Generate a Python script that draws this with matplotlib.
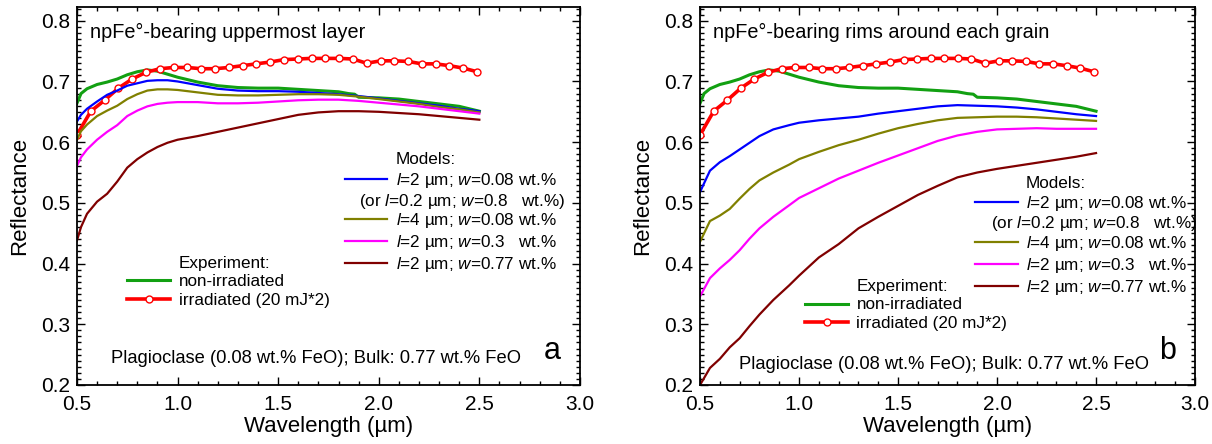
import numpy as np
import matplotlib
matplotlib.use('Agg')
import matplotlib.pyplot as plt
from matplotlib.lines import Line2D
from matplotlib.ticker import MultipleLocator

plt.rcParams['font.family'] = ['Liberation Sans', 'DejaVu Sans']
plt.rcParams['mathtext.fontset'] = 'custom'
plt.rcParams['mathtext.it'] = 'Liberation Sans:italic'
plt.rcParams['mathtext.rm'] = 'Liberation Sans'

# --- experiment (same in both panels) ---
wl_green = [0.5, 0.52, 0.55, 0.6, 0.65, 0.7, 0.75, 0.8, 0.85, 0.9, 0.95, 1.0, 1.05, 1.1, 1.2, 1.3,
            1.4, 1.5, 1.6, 1.7, 1.8, 1.85, 1.88, 1.9, 2.0, 2.1, 2.2, 2.3, 2.4, 2.5]
r_nonirr = [0.664, 0.680, 0.688, 0.695, 0.699, 0.704, 0.711, 0.716, 0.719, 0.717, 0.712, 0.707, 0.703,
            0.699, 0.693, 0.690, 0.689, 0.689, 0.687, 0.685, 0.683, 0.680, 0.679, 0.674, 0.673, 0.671,
            0.667, 0.663, 0.659, 0.651]
wl_red = [0.500, 0.569, 0.637, 0.706, 0.774, 0.843, 0.912, 0.980, 1.049, 1.117, 1.186, 1.254, 1.323,
          1.391, 1.460, 1.529, 1.597, 1.666, 1.734, 1.803, 1.871, 1.940, 2.009, 2.077, 2.146, 2.214,
          2.283, 2.351, 2.420, 2.489]
r_irr = [0.612, 0.651, 0.669, 0.689, 0.704, 0.715, 0.721, 0.723, 0.723, 0.721, 0.721, 0.723, 0.726,
         0.729, 0.732, 0.736, 0.737, 0.738, 0.738, 0.738, 0.737, 0.730, 0.734, 0.734, 0.733, 0.729,
         0.729, 0.726, 0.722, 0.716]

# --- models, panel a (uppermost layer) ---
wl_a = [0.5, 0.52, 0.55, 0.6, 0.65, 0.7, 0.75, 0.8, 0.85, 0.9, 0.95, 1.0, 1.1, 1.2, 1.3, 1.4, 1.5,
        1.6, 1.7, 1.8, 1.9, 2.0, 2.1, 2.2, 2.3, 2.4, 2.5]
a_l2_w008 = [0.634, 0.645, 0.655, 0.667, 0.678, 0.685, 0.693, 0.697, 0.701, 0.702, 0.702, 0.700, 0.694,
             0.688, 0.685, 0.684, 0.684, 0.683, 0.681, 0.679, 0.676, 0.672, 0.668, 0.664, 0.660, 0.655, 0.651]
a_l4_w008 = [0.604, 0.618, 0.629, 0.643, 0.652, 0.660, 0.671, 0.679, 0.685, 0.687, 0.687, 0.686, 0.682,
             0.678, 0.677, 0.677, 0.678, 0.679, 0.679, 0.678, 0.675, 0.671, 0.667, 0.663, 0.658, 0.654, 0.649]
a_l2_w03 = [0.561, 0.575, 0.588, 0.604, 0.617, 0.628, 0.643, 0.652, 0.659, 0.663, 0.665, 0.666, 0.666,
            0.664, 0.664, 0.665, 0.667, 0.669, 0.670, 0.670, 0.668, 0.665, 0.662, 0.659, 0.655, 0.651, 0.647]
a_l2_w077 = [0.438, 0.460, 0.482, 0.502, 0.515, 0.535, 0.558, 0.572, 0.583, 0.592, 0.599, 0.604, 0.610,
             0.617, 0.624, 0.631, 0.638, 0.645, 0.649, 0.651, 0.651, 0.650, 0.648, 0.646, 0.643, 0.640, 0.637]

# --- models, panel b (rims around each grain) ---
wl_b = [0.5, 0.55, 0.6, 0.65, 0.7, 0.75, 0.8, 0.87, 0.95, 1.0, 1.1, 1.2, 1.3, 1.4, 1.5, 1.6, 1.7,
        1.8, 1.9, 2.0, 2.1, 2.2, 2.3, 2.4, 2.5]
b_l2_w008 = [0.518, 0.553, 0.567, 0.577, 0.588, 0.599, 0.610, 0.621, 0.628, 0.632, 0.636, 0.639, 0.642,
             0.647, 0.651, 0.655, 0.659, 0.661, 0.660, 0.659, 0.657, 0.654, 0.650, 0.646, 0.643]
b_l4_w008 = [0.436, 0.470, 0.479, 0.490, 0.507, 0.523, 0.537, 0.550, 0.563, 0.572, 0.584, 0.595, 0.604,
             0.614, 0.623, 0.630, 0.636, 0.640, 0.641, 0.642, 0.642, 0.641, 0.639, 0.637, 0.635]
b_l2_w03 = [0.346, 0.376, 0.392, 0.406, 0.422, 0.441, 0.458, 0.477, 0.496, 0.508, 0.524, 0.540, 0.553,
            0.566, 0.578, 0.590, 0.602, 0.611, 0.617, 0.621, 0.622, 0.623, 0.622, 0.622, 0.622]
b_l2_w077 = [0.200, 0.228, 0.243, 0.262, 0.277, 0.297, 0.316, 0.340, 0.364, 0.380, 0.410, 0.432, 0.458,
             0.477, 0.495, 0.513, 0.528, 0.542, 0.550, 0.556, 0.561, 0.566, 0.571, 0.576, 0.582]

model_labels = [r'$\it{l}$=2 µm; $\it{w}$=0.08 wt.%',
                r'$\it{l}$=4 µm; $\it{w}$=0.08 wt.%',
                r'$\it{l}$=2 µm; $\it{w}$=0.3   wt.%',
                r'$\it{l}$=2 µm; $\it{w}$=0.77 wt.%']
alt_label = r'(or $\it{l}$=0.2 µm; $\it{w}$=0.8   wt.%)'
model_colors = ['#0000ff', '#808000', '#ff00ff', '#800000']
GREEN, RED = '#12a012', '#ff0000'
FS_LEG = 12.3

fig = plt.figure(figsize=(12.12, 4.44), dpi=100)
ax_a = fig.add_axes([0.0635, 0.133, 0.415, 0.851])
ax_b = fig.add_axes([0.5776, 0.133, 0.4084, 0.851])

# (axes, x, models, title, letter, models-legend anchor, "(or ...)" pos, experiment anchor, plagioclase pos)
panels = [
    (ax_a, wl_a, [a_l2_w008, a_l4_w008, a_l2_w03, a_l2_w077], 'npFe°-bearing uppermost layer', 'a',
     (1.83, 0.583), (1.90, 0.503), (0.75, 0.413), (0.668, 0.243)),
    (ax_b, wl_b, [b_l2_w008, b_l4_w008, b_l2_w03, b_l2_w077], 'npFe°-bearing rims around each grain', 'b',
     (1.888, 0.545), (1.97, 0.466), (1.031, 0.375), (0.697, 0.234)),
]

blank = Line2D([], [], color='none')
for ax, wl, models, title, letter, mod_anchor, alt_pos, exp_anchor, plag_pos in panels:
    ax.plot(wl_green, r_nonirr, color=GREEN, lw=2.2)
    ax.plot(wl_red, r_irr, color=RED, lw=2.6, marker='o', ms=5, mfc='white', mec=RED, mew=1.0)
    mh = []
    for vals, c in zip(models, model_colors):
        h, = ax.plot(wl, vals, color=c, lw=1.6)
        mh.append(h)

    ax.set_xlim(0.5, 3.0)
    ax.set_ylim(0.2, 0.8225)
    ax.xaxis.set_major_locator(MultipleLocator(0.5))
    ax.xaxis.set_minor_locator(MultipleLocator(0.1))
    ax.yaxis.set_major_locator(MultipleLocator(0.1))
    ax.yaxis.set_minor_locator(MultipleLocator(0.01))
    ax.xaxis.set_major_formatter(plt.FormatStrFormatter('%.1f'))
    ax.yaxis.set_major_formatter(plt.FormatStrFormatter('%.1f'))
    ax.tick_params(which='both', direction='in', top=True, right=True, width=1.0)
    ax.tick_params(which='major', length=6, labelsize=15)
    ax.tick_params(axis='x', which='major', pad=7)
    ax.tick_params(axis='y', which='major', pad=5)
    ax.tick_params(which='minor', length=3)
    for s in ax.spines.values():
        s.set_linewidth(1.3)
    ax.set_xlabel('Wavelength (µm)', fontsize=16, labelpad=2)
    ax.set_ylabel('Reflectance', fontsize=16, labelpad=8)

    ax.text(0.567, 0.781, title, fontsize=14.3, va='center', ha='left')
    ax.text(plag_pos[0], plag_pos[1], 'Plagioclase (0.08 wt.% FeO); Bulk: 0.77 wt.% FeO',
            fontsize=13.2, va='center', ha='left')
    ax.text(2.86, 0.256, letter, fontsize=22, va='center', ha='center')

    leg_m = ax.legend([blank, mh[0], blank, mh[1], mh[2], mh[3]],
                      ['Models:', model_labels[0], ' ', model_labels[1], model_labels[2], model_labels[3]],
                      loc='upper left', bbox_to_anchor=mod_anchor, bbox_transform=ax.transData,
                      frameon=False, fontsize=FS_LEG, handlelength=2.5, handletextpad=0.5,
                      labelspacing=0.18, borderpad=0, borderaxespad=0)
    ax.add_artist(leg_m)
    ax.text(alt_pos[0], alt_pos[1], alt_label, fontsize=FS_LEG, va='center', ha='left')

    red_h = Line2D([], [], color=RED, lw=2.6, marker='o', ms=5, mfc='white', mec=RED, mew=1.0)
    green_h = Line2D([], [], color=GREEN, lw=2.2)
    ax.legend([blank, green_h, red_h], ['Experiment:', 'non-irradiated', 'irradiated (20 mJ*2)'],
              loc='upper left', bbox_to_anchor=exp_anchor, bbox_transform=ax.transData,
              frameon=False, fontsize=FS_LEG, handlelength=2.5, handletextpad=0.5,
              labelspacing=0.22, borderpad=0, borderaxespad=0, numpoints=1)

fig.savefig('out.png', dpi=100)
